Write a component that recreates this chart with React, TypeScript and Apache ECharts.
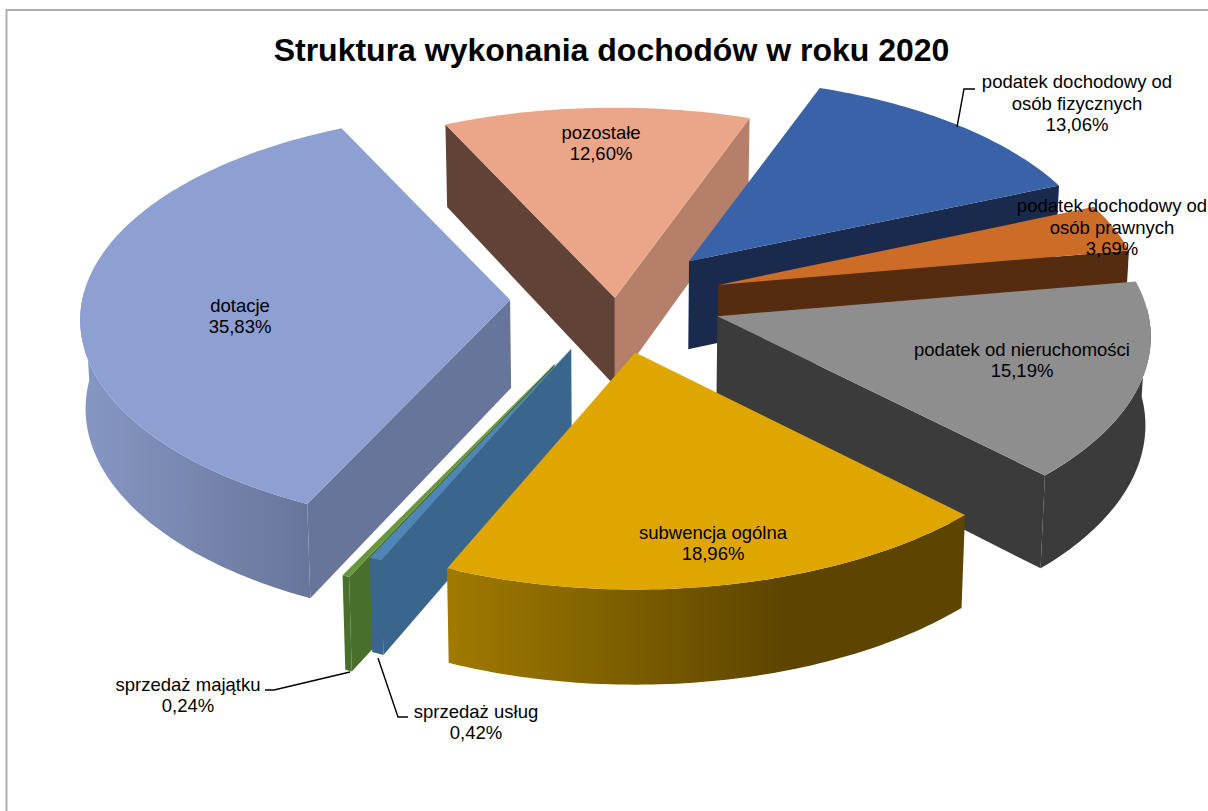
import React, { useEffect, useRef } from "react";
import * as echarts from "echarts";

const titleText = "Struktura wykonania dochodów w roku 2020";
const categories = [
  "podatek dochodowy od\nosób fizycznych",
  "podatek dochodowy od\nosób prawnych",
  "podatek od nieruchomości",
  "subwencja ogólna",
  "sprzedaż usług",
  "sprzedaż majątku",
  "dotacje",
  "pozostałe",
];
const shares = [13.06, 3.69, 15.19, 18.96, 0.42, 0.24, 35.83, 12.6];

// styling (one entry per slice, same order as categories)
const explosions = [0.25, 0.25, 0.25, 0.25, 0.25, 0.33, 0.244, 0.01];
const radiusScalesX = [0.97, 0.985, 1.003, 1.01, 1.02, 1.04, 0.995, 1];
const radiusScalesY = [0.94, 0.97, 0.98, 1, 0.98, 1.0, 0.965, 0.975];
const topColors = ["#3a62a9", "#cd6c27", "#8e8e8e", "#dfa600", "#4f86b9", "#67963c", "#8e9fd2", "#eba689"];
const startWallColors = ["#1a2a4c", "#552c10", "#3b3b3b", "#5d4500", "#3a658c", "#496f2c", "#68759b", "#614237"];
const endWallColors = ["#1a2a4c", "#552c10", "#3b3b3b", "#5d4500", "#3a658c", "#496f2c", "#68759b", "#b57f69"];
const arcWallColors: [string, string, number][] = [
  ["#1a2a4c", "#1a2a4c", 1],
  ["#552c10", "#552c10", 1],
  ["#3b3b3b", "#3b3b3b", 1],
  ["#a07a00", "#5d4500", 0.65],
  ["#3a658c", "#3a658c", 1],
  ["#496f2c", "#496f2c", 1],
  ["#8797c4", "#68759b", 1],
  ["#614237", "#614237", 1],
];
const drawOrder = [7, 6, 0, 1, 2, 5, 4, 3];
const labelCenters = [
  [1077, 103],
  [1112, 227],
  [1022, 360],
  [713, 543],
  [476, 722],
  [188, 695],
  [240, 316],
  [601, 143],
];
const leaders = [
  [[975, 89], [964, 89], [957, 127]],
  [[408, 717], [398, 717], [378, 658]],
  [[265, 690], [274, 690], [350, 672]],
];

const START_ANGLE = 20;
const CX = 615;
const CY = 300;
const RX = 430;
const RY = 214;
const PERSPECTIVE = 0.097;
const DEPTH = 88;

const total = shares.reduce((a, b) => a + b, 0);
const rad = (d: number) => (d * Math.PI) / 180;

function sliceAngles(i: number) {
  let before = 0;
  for (let k = 0; k < i; k++) before += shares[k];
  const a0 = START_ANGLE + (before / total) * 360;
  const a1 = a0 + (shares[i] / total) * 360;
  return [a0, a1];
}

function renderSlice(_params: any, api: any) {
  const i = api.value(0);
  const [a0, a1] = sliceAngles(i);
  const mid = rad((a0 + a1) / 2);
  const e = explosions[i];
  const ax = CX + RX * e * Math.sin(mid);
  const ay = CY - RY * e * Math.cos(mid);
  const top = (X: number, Y: number) => {
    const s = 1 / (1 - PERSPECTIVE * Y);
    return [ax + RX * radiusScalesX[i] * X * s, ay + RY * radiusScalesY[i] * Y * s];
  };
  const rim = (deg: number) => top(Math.sin(rad(deg)), -Math.cos(rad(deg)));
  const drop = (p: number[], Y: number) => [CX + (p[0] - CX) * 0.99, p[1] + DEPTH / (1 - 0.075 * Y)];
  const dropRim = (deg: number) => drop(rim(deg), -Math.cos(rad(deg)));
  const apex = top(0, 0);
  const apexLow = drop(apex, 0);
  const children: any[] = [];
  const poly = (points: number[][], fill: any) =>
    children.push({ type: "polygon", shape: { points }, style: { fill, stroke: null } });

  const pStart = rim(a0);
  const pEnd = rim(a1);
  if (pEnd[0] > apex[0]) {
    poly([pEnd, apex, apexLow, dropRim(a1)], endWallColors[i]);
  }
  if (pStart[0] < apex[0]) {
    poly([apex, pStart, dropRim(a0), apexLow], startWallColors[i]);
  }
  // outer wall: the part of the rim that faces the viewer
  const from = Math.max(a0, 88);
  const to = Math.min(a1, 272);
  if (to > from) {
    const upper: number[][] = [];
    const lower: number[][] = [];
    for (let d = from; d < to; d += 1) {
      upper.push(rim(d));
      lower.push(dropRim(d));
    }
    upper.push(rim(to));
    lower.push(dropRim(to));
    const [c0, c1, stop] = arcWallColors[i];
    poly(
      upper.concat(lower.reverse()),
      new echarts.graphic.LinearGradient(0, 0, 1, 0, [
        { offset: 0, color: c0 },
        { offset: stop, color: c1 },
        { offset: 1, color: c1 },
      ])
    );
  }
  const face: number[][] = [apex];
  for (let d = a0; d < a1; d += 1) face.push(rim(d));
  face.push(rim(a1));
  poly(face, topColors[i]);
  return { type: "group", children };
}

const percent = (v: number) => v.toFixed(2).replace(".", ",") + "%";

export default function App() {
  const ref = useRef<HTMLDivElement>(null);
  useEffect(() => {
    const chart = echarts.init(ref.current!, undefined, { renderer: "svg" });
    chart.setOption({
      animation: false,
      backgroundColor: "#ffffff",
      title: {
        text: titleText,
        left: 606.5,
        top: 29,
        textAlign: "center",
        textStyle: { fontFamily: "Liberation Sans", fontSize: 32, fontWeight: "bold", color: "#000000" },
      },
      graphic: {
        elements: [
          {
            type: "rect",
            z: 0,
            silent: true,
            shape: { x: 6.5, y: 10, width: 1300, height: 900 },
            style: { fill: "none", stroke: "#adadad", lineWidth: 2 },
          },
          ...leaders.map((points) => ({
            type: "polyline",
            z: 20,
            silent: true,
            shape: { points },
            style: { fill: "none", stroke: "#000000", lineWidth: 1.4 },
          })),
          ...categories.map((name, i) => ({
            type: "text",
            z: 20,
            silent: true,
            x: labelCenters[i][0],
            y: labelCenters[i][1],
            style: {
              text: name + "\n" + percent(shares[i]),
              fill: "#000000",
              font: "18.5px 'Liberation Sans'",
              lineHeight: 21.5,
              align: "center",
              verticalAlign: "middle",
            },
          })),
        ],
      },
      series: [
        {
          type: "custom",
          coordinateSystem: "none",
          silent: true,
          z: 5,
          clip: false,
          renderItem: renderSlice,
          data: drawOrder.map((i) => [i, shares[i]]),
        },
      ],
    });
    return () => chart.dispose();
  }, []);
  return <div ref={ref} style={{ position: "absolute", left: 0, top: 0, width: 1208, height: 811 }} />;
}
